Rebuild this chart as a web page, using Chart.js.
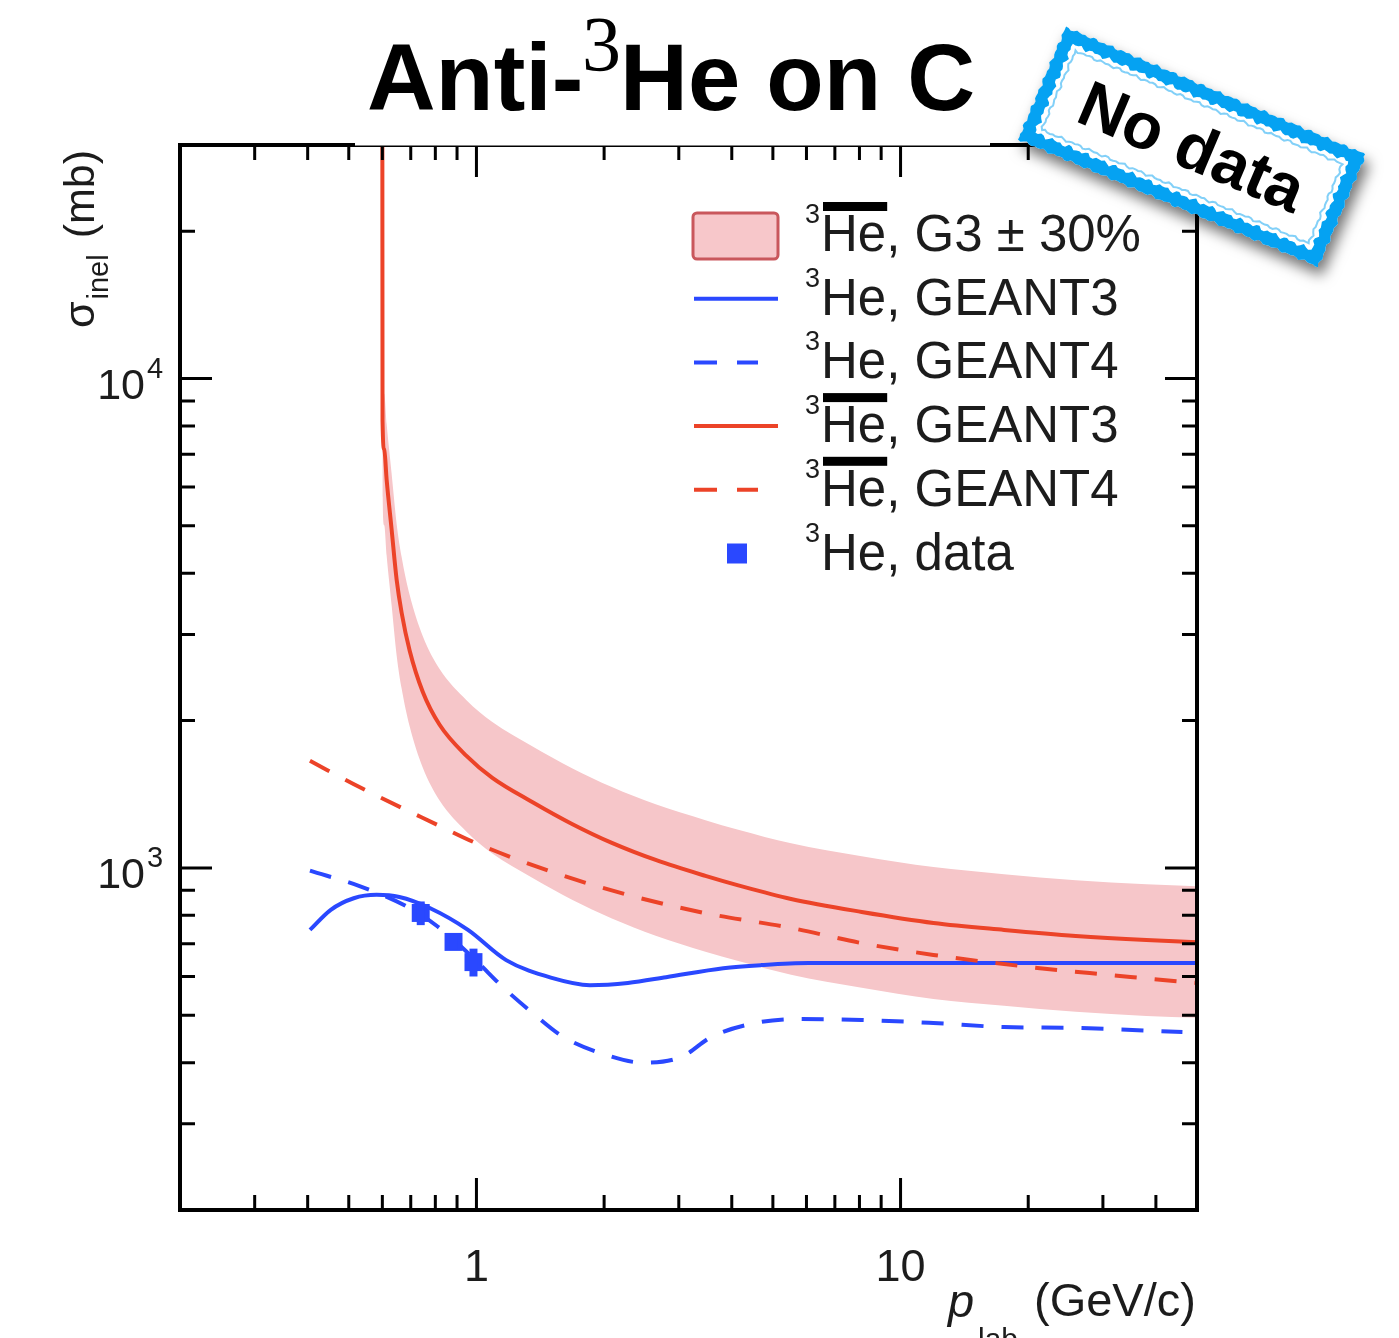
<!DOCTYPE html>
<html><head><meta charset="utf-8">
<script src="https://cdn.jsdelivr.net/npm/chart.js@4.4.1/dist/chart.umd.min.js"></script>
<style>html,body{margin:0;padding:0;background:#fff;overflow:hidden}canvas{display:block}</style>
</head><body>
<canvas id="c" width="1399" height="1338"></canvas>
<script>
// ---------------- data ----------------
const pAntiG3   = [0.6000, 0.6006, 0.6062, 0.6141, 0.6310, 0.6484, 0.6662, 0.6960, 0.7470, 0.8187, 0.9474, 1.0902, 1.3536, 1.6802, 2.0859, 2.6459, 3.4668, 4.1434, 5.519, 8.098, 11.955, 17.54, 25.89, 37.99, 50];
const sigAntiG3 = [32150, 8177, 7158, 6216, 4912, 3881, 3322, 2778, 2291, 1961, 1694, 1528, 1364, 1230, 1125, 1038, 963, 921, 864, 813, 772, 747, 726, 712, 705];
const bandUpper = [41800, 10630, 9305, 8081, 6386, 5045, 4319, 3611, 2978, 2549, 2202, 1986, 1773, 1599, 1463, 1349, 1252, 1197, 1123, 1057, 1004, 971, 944, 926, 917];
const bandLower = [22505, 5724, 5011, 4351, 3438, 2717, 2325, 1945, 1604, 1373, 1186, 1070, 955, 861, 788, 727, 674, 645, 605, 569, 540, 523, 508, 498, 494];

const pAntiG4   = [0.405, 0.534, 0.81, 0.995, 1.508, 2.275, 3.448, 5.52, 8.10, 11.95, 21.3, 31.3, 46.2, 50];
const sigAntiG4 = [1655, 1458, 1224, 1125, 981, 881, 809, 754, 702, 664, 624, 604, 585, 582];

const pHeG3   = [0.405, 0.4535, 0.5136, 0.5816, 0.658, 0.776, 0.955, 1.175, 1.505, 1.852, 2.275, 2.80, 3.82, 4.69, 6.07, 10, 20, 50];
const sigHeG3 = [747, 821, 867, 881, 872, 828, 747, 648, 596, 576, 582, 598, 624, 633, 639, 639, 639, 639];

const pHeG4   = [0.405, 0.534, 0.685, 0.81, 0.995, 1.151, 1.358, 1.60, 1.97, 2.473, 3.042, 3.589, 4.543, 5.73, 8.10, 11.95, 17.54, 25.9, 46.2];
const sigHeG4 = [987, 916, 834, 759, 648, 572, 505, 452, 418, 400, 411, 452, 482, 491, 489, 482, 473, 471, 462];

const pHeData   = [0.739, 0.883, 0.984];
const sigHeData = [809, 706, 642];
const errHeData = [45, 25, 42];

const xMajorTicks = [1, 10];
const xTickLabels = ["1", "10"];
const xMinorTicks = [0.3, 0.4, 0.5, 0.6, 0.7, 0.8, 0.9, 2, 3, 4, 5, 6, 7, 8, 9, 20, 30, 40];
const yMajorTicks = [1000, 10000];
const yTickBase   = ["10", "10"];
const yTickExp    = ["3", "4"];
const yMinorTicks = [300, 400, 500, 600, 700, 800, 900, 2000, 3000, 4000, 5000, 6000, 7000, 8000, 9000, 20000];

const legendText = ["He, G3 \u00B1 30%", "He, GEANT3", "He, GEANT4", "He, GEANT3", "He, GEANT4", "He, data"];
const legendAnti = [true, false, false, true, true, false];
const titleParts = ["Anti-", "3", "He on C"];
const stickerText = "No data";
const xTitle = ["p", "lab", "(GeV/c)"];
const yTitle = ["\u03C3", "inel", "(mb)"];

// ---------------- styles ----------------
const FONT = '"Liberation Sans", Arial, Helvetica, sans-serif';
const SERIF = '"Liberation Serif", "Times New Roman", serif';
const BLUE = '#2a48ff';
const RED = '#ec4328';
const PINK = '#f6c6c9';
const TXT = '#1c1c1c';
const DASH = [22, 18];

function pts(xs, ys) { return xs.map((x, i) => ({ x: x, y: ys[i] })); }

// rough rectangle outline for the sticker (decoration only)
function roughRect(ctx, w, h, amp, phase) {
  const per = [];
  const step = 3;
  const corners = [[-w / 2, -h / 2], [w / 2, -h / 2], [w / 2, h / 2], [-w / 2, h / 2]];
  let k = 0;
  for (let c = 0; c < 4; c++) {
    const [x0, y0] = corners[c], [x1, y1] = corners[(c + 1) % 4];
    const len = Math.hypot(x1 - x0, y1 - y0);
    const nx = (y1 - y0) / len, ny = -(x1 - x0) / len;
    const n = Math.max(1, Math.round(len / step));
    for (let s = 0; s < n; s++) {
      const t = s / n;
      const j = amp * (0.55 * Math.sin(k * 1.93 + phase) + 0.45 * Math.sin(k * 5.17 + phase * 2.3));
      per.push([x0 + (x1 - x0) * t + nx * j, y0 + (y1 - y0) * t + ny * j]);
      k++;
    }
  }
  ctx.moveTo(per[0][0], per[0][1]);
  for (let i = 1; i < per.length; i++) ctx.lineTo(per[i][0], per[i][1]);
  ctx.closePath();
}

const decor = {
  id: 'decor',
  beforeDraw(chart) {
    const ctx = chart.ctx;
    ctx.save();
    ctx.fillStyle = '#fff';
    ctx.fillRect(0, 0, chart.width, chart.height);
    ctx.restore();
  },
  afterDatasetsDraw(chart) {
    const ctx = chart.ctx, a = chart.chartArea, xs = chart.scales.x, ys = chart.scales.y;
    ctx.save();
    // error bars of data
    ctx.strokeStyle = BLUE; ctx.lineWidth = 8;
    pHeData.forEach((p, i) => {
      const px = xs.getPixelForValue(p);
      ctx.beginPath();
      ctx.moveTo(px, ys.getPixelForValue(sigHeData[i] - errHeData[i]));
      ctx.lineTo(px, ys.getPixelForValue(sigHeData[i] + errHeData[i]));
      ctx.stroke();
    });
    // ticks
    ctx.strokeStyle = '#000'; ctx.lineWidth = 3;
    const tick = (vals, len) => {
      vals.forEach(v => {
        const px = xs.getPixelForValue(v);
        ctx.beginPath();
        ctx.moveTo(px, a.bottom); ctx.lineTo(px, a.bottom - len);
        ctx.moveTo(px, a.top); ctx.lineTo(px, a.top + len);
        ctx.stroke();
      });
    };
    const ytick = (vals, len) => {
      vals.forEach(v => {
        const py = ys.getPixelForValue(v);
        ctx.beginPath();
        ctx.moveTo(a.left, py); ctx.lineTo(a.left + len, py);
        ctx.moveTo(a.right, py); ctx.lineTo(a.right - len, py);
        ctx.stroke();
      });
    };
    tick(xMinorTicks, 15); tick(xMajorTicks, 32);
    ytick(yMinorTicks, 15); ytick(yMajorTicks, 32);
    // frame
    ctx.lineWidth = 4;
    ctx.strokeRect(a.left, a.top, a.right - a.left, a.bottom - a.top);
    // white backing of title (covers upper part of top axis line)
    ctx.fillStyle = '#fff';
    ctx.fillRect(355, 0, 635, a.top + 0.5);
    ctx.restore();
  },
  afterDraw(chart) {
    const ctx = chart.ctx, xs = chart.scales.x, ys = chart.scales.y;
    ctx.save();
    ctx.fillStyle = TXT;
    ctx.textBaseline = 'alphabetic';
    // x tick labels
    ctx.font = '45px ' + FONT; ctx.textAlign = 'center';
    xMajorTicks.forEach((v, i) => ctx.fillText(xTickLabels[i], xs.getPixelForValue(v), 1281));
    // y tick labels
    yMajorTicks.forEach((v, i) => {
      const py = ys.getPixelForValue(v);
      ctx.font = '43px ' + FONT; ctx.textAlign = 'right';
      ctx.fillText(yTickBase[i], 145, py + 20);
      ctx.font = '29px ' + FONT; ctx.textAlign = 'left';
      ctx.fillText(yTickExp[i], 147, py - 1);
    });
    // x title
    ctx.textAlign = 'left';
    ctx.font = 'italic 47px ' + FONT; ctx.fillText(xTitle[0], 948, 1317);
    ctx.font = '30px ' + FONT; ctx.fillText(xTitle[1], 978, 1349);
    ctx.font = '47px ' + FONT; ctx.fillText(xTitle[2], 1034, 1316);
    // y title (rotated)
    ctx.save();
    ctx.translate(94, 328); ctx.rotate(-Math.PI / 2);
    ctx.font = '43px ' + FONT; ctx.fillText(yTitle[0], 0, 0);
    let w = ctx.measureText(yTitle[0]).width;
    ctx.font = '29px ' + FONT; ctx.fillText(yTitle[1], w + 2, 14);
    w += 2 + ctx.measureText(yTitle[1]).width;
    ctx.font = '43px ' + FONT; ctx.fillText(yTitle[2], w + 16, 0);
    ctx.restore();

    // legend
    const rowY0 = 235, rowStep = 63.7;
    legendText.forEach((t, i) => {
      const cy = rowY0 + i * rowStep;
      const bl = cy + 16;
      if (i === 0) {
        ctx.save();
        ctx.fillStyle = '#f7c7ca'; ctx.strokeStyle = '#c9575c'; ctx.lineWidth = 3;
        ctx.beginPath();
        if (ctx.roundRect) ctx.roundRect(693, 213, 85, 46, 4); else ctx.rect(693, 213, 85, 46);
        ctx.fill(); ctx.stroke();
        ctx.restore();
      } else if (i === 5) {
        ctx.save(); ctx.fillStyle = BLUE; ctx.fillRect(727, cy - 10, 20, 20); ctx.restore();
      } else {
        ctx.save();
        ctx.strokeStyle = (i <= 2) ? BLUE : RED; ctx.lineWidth = 4;
        const dashed = (i === 2 || i === 4);
        ctx.setLineDash(dashed ? [23, 20] : []);
        ctx.beginPath(); ctx.moveTo(694, cy); ctx.lineTo(dashed ? 758 : 778, cy); ctx.stroke();
        ctx.restore();
      }
      ctx.fillStyle = TXT; ctx.textAlign = 'left';
      ctx.font = '27px ' + FONT; ctx.fillText('3', 805, bl - 28);
      ctx.font = '51px ' + FONT; ctx.fillText(t, 821, bl);
      if (legendAnti[i]) {
        const hw = ctx.measureText('He').width;
        ctx.fillStyle = '#000';
        ctx.fillRect(823, bl - 49, hw - 1, 9);
      }
    });

    // title
    ctx.fillStyle = '#000'; ctx.textAlign = 'left';
    ctx.font = 'bold 95px ' + FONT;
    ctx.fillText(titleParts[0], 367, 110);
    ctx.font = '78px ' + SERIF;
    ctx.fillText(titleParts[1], 582, 70);
    ctx.font = 'bold 94px ' + FONT;
    ctx.fillText(titleParts[2], 620, 110);

    // sticker
    ctx.save();
    ctx.translate(1192, 147);
    ctx.rotate(23 * Math.PI / 180);
    const W = 326, H = 122;
    ctx.shadowColor = 'rgba(0,0,0,0.55)';
    ctx.shadowBlur = 14; ctx.shadowOffsetX = 4; ctx.shadowOffsetY = 9;
    ctx.fillStyle = '#fff';
    ctx.beginPath(); roughRect(ctx, W, H, 1.6, 0.3); ctx.fill();
    ctx.shadowColor = 'rgba(0,0,0,0)';
    ctx.fillStyle = '#05a2f2';
    ctx.beginPath();
    roughRect(ctx, W, H, 1.6, 0.3);
    roughRect(ctx, W - 26, H - 26, 2.4, 1.7);
    ctx.fill('evenodd');
    ctx.strokeStyle = 'rgba(5,162,242,0.5)'; ctx.lineWidth = 2;
    ctx.beginPath(); roughRect(ctx, W - 36, H - 36, 1.5, 2.9); ctx.stroke();
    ctx.fillStyle = '#000'; ctx.font = 'bold 65px ' + FONT;
    ctx.textAlign = 'center'; ctx.textBaseline = 'middle';
    ctx.fillText(stickerText, 0, 4);
    ctx.restore();

    ctx.restore();
  }
};

const lineBase = { pointRadius: 0, borderWidth: 4, fill: false, cubicInterpolationMode: 'monotone' };

new Chart(document.getElementById('c'), {
  type: 'line',
  data: {
    datasets: [
      { label: '3He, data', data: pts(pHeData, sigHeData), showLine: false,
        pointStyle: 'rect', pointRadius: 12.7, pointBackgroundColor: BLUE, pointBorderWidth: 0, borderColor: BLUE },
      Object.assign({ label: 'anti-3He, GEANT3', data: pts(pAntiG3, sigAntiG3), borderColor: RED }, lineBase),
      Object.assign({ label: 'anti-3He, GEANT4', data: pts(pAntiG4, sigAntiG4), borderColor: RED, borderDash: DASH }, lineBase),
      Object.assign({ label: '3He, GEANT3', data: pts(pHeG3, sigHeG3), borderColor: BLUE }, lineBase),
      Object.assign({ label: '3He, GEANT4', data: pts(pHeG4, sigHeG4), borderColor: BLUE, borderDash: DASH }, lineBase),
      { label: 'anti-3He, G3 +30%', data: pts(pAntiG3, bandUpper), borderColor: 'rgba(0,0,0,0)', borderWidth: 1,
        pointRadius: 0, backgroundColor: PINK, fill: '+1', cubicInterpolationMode: 'monotone' },
      { label: 'anti-3He, G3 -30%', data: pts(pAntiG3, bandLower), borderColor: 'rgba(0,0,0,0)', borderWidth: 1,
        pointRadius: 0, fill: false, cubicInterpolationMode: 'monotone' }
    ]
  },
  options: {
    responsive: false,
    animation: false,
    events: [],
    devicePixelRatio: 1,
    layout: { padding: { left: 180, right: 202, top: 145, bottom: 128 } },
    scales: {
      x: { type: 'logarithmic', min: 0.2, max: 50, display: false },
      y: { type: 'logarithmic', min: 200, max: 30000, display: false }
    },
    plugins: {
      legend: { display: false },
      tooltip: { enabled: false },
      title: { display: false },
      filler: { drawTime: 'beforeDatasetsDraw' }
    }
  },
  plugins: [decor]
});
</script>
</body></html>
